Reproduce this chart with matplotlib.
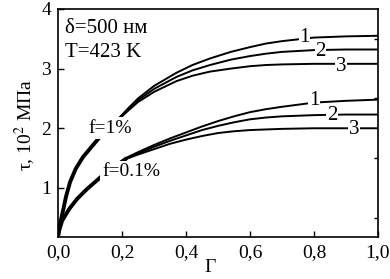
import numpy as np
import matplotlib
matplotlib.use("Agg")
import matplotlib.pyplot as plt

plt.rcParams['font.family'] = ['Liberation Serif', 'DejaVu Serif']
plt.rcParams['mathtext.fontset'] = 'stix'

# ---- data ----
# f = 1 % : common part (all three curves together)
x_f1_common = [0.0, 0.004, 0.0125, 0.025, 0.0375, 0.055, 0.078, 0.1, 0.125, 0.15, 0.19]
y_f1_common = [0.2, 0.35, 0.55, 0.86, 1.1, 1.32, 1.52, 1.66, 1.82, 1.96, 2.16]
# branches after the split
x_f1_branch = [0.19, 0.22, 0.25, 0.3, 0.37, 0.42, 0.475, 0.54, 0.6, 0.65, 0.7, 0.8, 0.9, 1.0]
y_f1_1 = [2.17, 2.34, 2.50, 2.71, 2.93, 3.06, 3.17, 3.28, 3.36, 3.42, 3.46, 3.52, 3.54, 3.55]
y_f1_2 = [2.16, 2.32, 2.47, 2.66, 2.86, 2.97, 3.06, 3.15, 3.21, 3.25, 3.28, 3.31, 3.32, 3.32]
y_f1_3 = [2.15, 2.30, 2.44, 2.61, 2.79, 2.88, 2.95, 3.00, 3.04, 3.06, 3.07, 3.08, 3.08, 3.08]

# f = 0.1 %
x_f01_common = [0.0, 0.004, 0.0125, 0.035, 0.06, 0.09, 0.137, 0.17, 0.215]
y_f01_common = [0.2, 0.3, 0.45, 0.65, 0.82, 0.98, 1.2, 1.33, 1.5]
x_f01_branch = [0.215, 0.25, 0.3, 0.35, 0.4, 0.45, 0.5, 0.55, 0.6, 0.65, 0.7, 0.8, 0.9, 1.0]
y_f01_1 = [1.51, 1.60, 1.72, 1.83, 1.93, 2.03, 2.12, 2.20, 2.27, 2.32, 2.36, 2.43, 2.46, 2.48]
y_f01_2 = [1.50, 1.58, 1.69, 1.79, 1.88, 1.97, 2.04, 2.10, 2.15, 2.18, 2.20, 2.22, 2.23, 2.23]
y_f01_3 = [1.49, 1.56, 1.65, 1.74, 1.81, 1.87, 1.92, 1.95, 1.97, 1.98, 1.99, 2.00, 2.00, 2.00]

curve_names = ['1', '2', '3']
x_ticks = [0.0, 0.2, 0.4, 0.6, 0.8, 1.0]
x_ticklabels = ['0,0', '0,2', '0,4', '0,6', '0,8', '1,0']
y_ticks = [1, 2, 3, 4]

fig = plt.figure(figsize=(3.9, 2.79), dpi=100)
ax = fig.add_axes([0.149, 0.151, 0.82, 0.817])

# common parts, drawn thick
ax.plot(x_f1_common, y_f1_common, color='black', lw=2.8, solid_capstyle='butt')
ax.plot(x_f01_common, y_f01_common, color='black', lw=2.8, solid_capstyle='butt')

for yb in (y_f1_1, y_f1_2, y_f1_3):
    ax.plot(x_f1_branch, yb, color='black', lw=1.4)
for yb in (y_f01_1, y_f01_2, y_f01_3):
    ax.plot(x_f01_branch, yb, color='black', lw=1.4)

# curve numbers (white box breaks the line)
box = dict(facecolor='white', edgecolor='none', pad=0.5)
for name, (xl, yl) in zip(curve_names, [(0.77, 3.52), (0.82, 3.28), (0.885, 3.04)]):
    ax.text(xl, yl, name, fontsize=15, ha='center', va='center', bbox=box, zorder=5)
for name, (xl, yl) in zip(curve_names, [(0.80, 2.46), (0.856, 2.22), (0.925, 1.98)]):
    ax.text(xl, yl, name, fontsize=15, ha='center', va='center', bbox=box, zorder=5)

ax.text(0.094, 2.0, 'f=1%', fontsize=14, ha='left', va='center',
        bbox=dict(facecolor='white', edgecolor='none', pad=2), zorder=5)
ax.text(0.14, 1.27, 'f=0.1%', fontsize=14, ha='left', va='center',
        bbox=dict(facecolor='white', edgecolor='none', pad=2), zorder=5)

ax.text(0.02, 3.68, 'δ=500 нм', fontsize=15, ha='left', va='center')
ax.text(0.02, 3.27, 'T=423 K', fontsize=15, ha='left', va='center')

ax.set_xlim(0, 1.0)
ax.set_ylim(0.18, 4.0)
ax.set_xticks(x_ticks)
ax.set_xticklabels(x_ticklabels)
ax.set_yticks(y_ticks)
ax.set_yticks(np.arange(0.5, 4.0, 0.5), minor=True)
ax.tick_params(which='major', direction='in', length=4, width=1, labelsize=14, pad=5)
ax.tick_params(which='minor', direction='in', length=3, width=1, left=False, right=True)
ax.tick_params(axis='y', which='major', right=False)
for s in ax.spines.values():
    s.set_linewidth(1.2)

fig.text(210 / 390, 1 - 267 / 279, 'Γ', fontsize=14, ha='center', va='center')
fig.text(25 / 390, 1 - 125 / 279, r'τ, 10$^2$ МПа', fontsize=14, ha='center', va='center',
         rotation=90)

plt.savefig('out.png', dpi=100)
